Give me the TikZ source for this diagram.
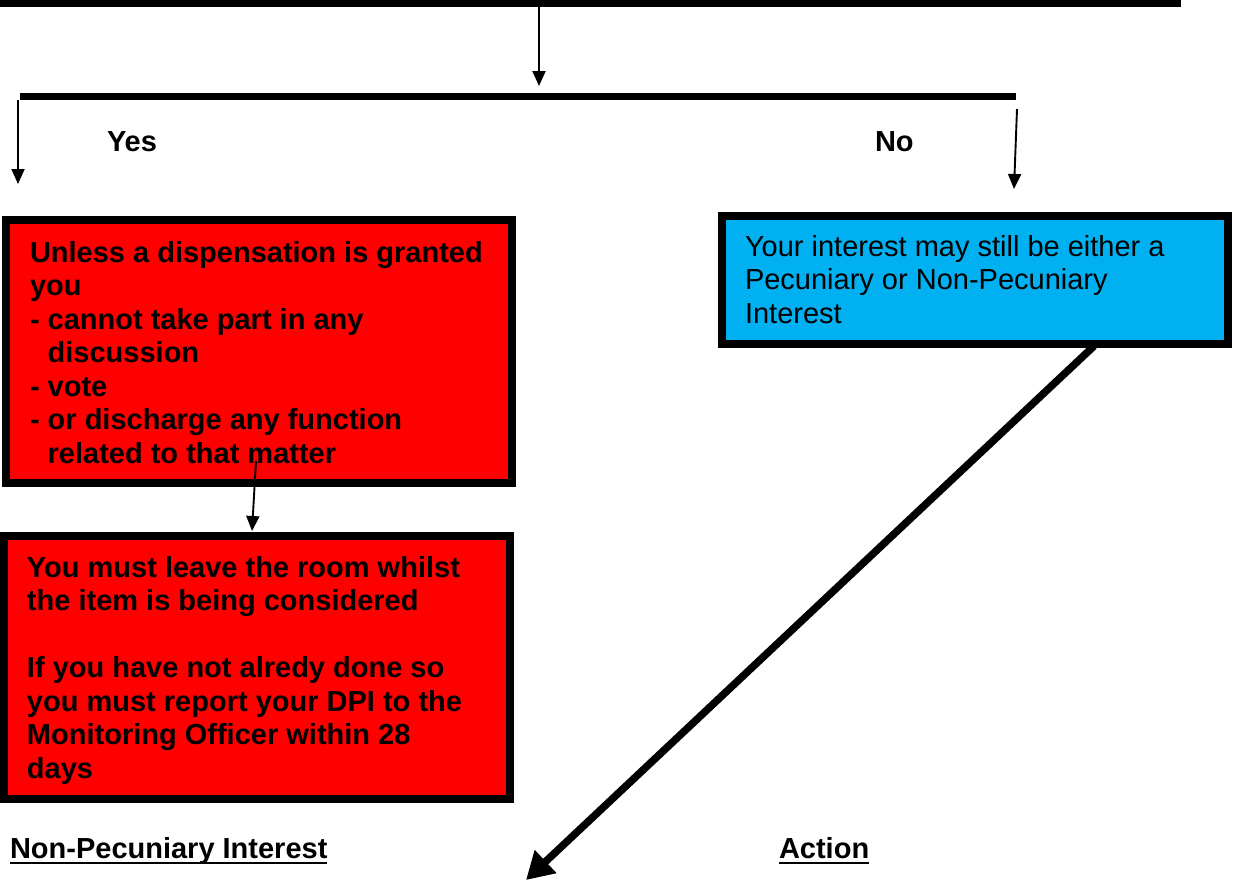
\documentclass[tikz,border=0pt]{standalone}
\usepackage{fontspec}
\setmainfont{Liberation Sans}
\usetikzlibrary{arrows.meta}
\definecolor{boxred}{HTML}{FF0000}
\definecolor{boxblue}{HTML}{00B0F0}
\begin{document}
\begin{tikzpicture}[x=1pt,y=-1pt,
  txt/.style={inner sep=0pt, outer sep=0pt, anchor=base west, font=\fontsize{29}{33.5}\selectfont},
  btxt/.style={txt, font=\fontsize{29}{33.5}\selectfont\bfseries},
  bar/.style={line width=7pt},
  thinarrow/.style={line width=1.9pt, -{Triangle[length=15pt,width=13pt]}},
  thickarrow/.style={line width=7.5pt, -{Triangle[length=27pt,width=30pt]}},
  panel/.style={draw=black, line width=7.5pt, outer sep=0pt, inner sep=0pt, anchor=north west},
  redbox/.style={panel, fill=boxred},
  bluebox/.style={panel, fill=boxblue},
  uline/.style={line width=2.2pt},
]
\useasboundingbox (0,0) rectangle (1234,881);

% bars
\coordinate (bar1l) at (0,3.5);
\coordinate (bar1r) at (1181,3.5);
\coordinate (bar2l) at (20,96.5);
\coordinate (bar2r) at (1016,96.5);
\draw[bar] (bar1l) -- (bar1r);
\draw[bar] (bar2l) -- (bar2r);

% arrows from bars
\coordinate (t1s) at (539,7);
\coordinate (t1e) at (539,86);
\draw[thinarrow] (t1s) -- (t1e);
\coordinate (yess) at (18,100);
\coordinate (yese) at (18,184);
\draw[thinarrow] (yess) -- (yese);
\coordinate (nos) at (1017,109);
\coordinate (noe) at (1014,189);
\draw[thinarrow] (nos) -- (noe);

\node[btxt] (yes) at (107,151) {Yes};
\node[btxt] (no) at (875,151) {No};

% boxes
\node[redbox, minimum width=506pt, minimum height=263pt] (r1) at (6,220) {};
\node[redbox, minimum width=506pt, minimum height=263pt] (r2) at (4,536) {};
\node[bluebox, minimum width=506pt, minimum height=128pt] (b1) at (722,216) {};

% texts
\node[btxt] (r1t) at (30,262) {\begin{tabular}[t]{@{}l@{}}
Unless a dispensation is granted\\
you\\
- cannot take part in any\\
\phantom{- }discussion\\
- vote\\
- or discharge any function\\
\phantom{- }related to that matter
\end{tabular}};

\node[btxt] (r2t) at (27,577) {\begin{tabular}[t]{@{}l@{}}
You must leave the room whilst\\
the item is being considered\\
\\
If you have not alredy done so\\
you must report your DPI to the\\
Monitoring Officer within 28\\
days
\end{tabular}};

\node[txt] (b1t) at (745,256) {\begin{tabular}[t]{@{}l@{}}
Your interest may still be either a\\
Pecuniary or Non-Pecuniary\\
Interest
\end{tabular}};

% connector between red boxes
\coordinate (rs) at (256,461);
\coordinate (re) at (252,531);
\draw[thinarrow] (rs) -- (re);

% diagonal arrow
\coordinate (ds) at (1094,346);
\coordinate (de) at (526,880);
\draw[thickarrow] (ds) -- (de);

% headings
\node[btxt] (np) at (10,858) {Non-Pecuniary Interest};
\draw[uline] ([yshift=-5pt]np.base west) -- ([yshift=-5pt]np.base east);
\node[btxt] (act) at (779,858) {Action};
\draw[uline] ([yshift=-5pt]act.base west) -- ([yshift=-5pt]act.base east);
\end{tikzpicture}
\end{document}
